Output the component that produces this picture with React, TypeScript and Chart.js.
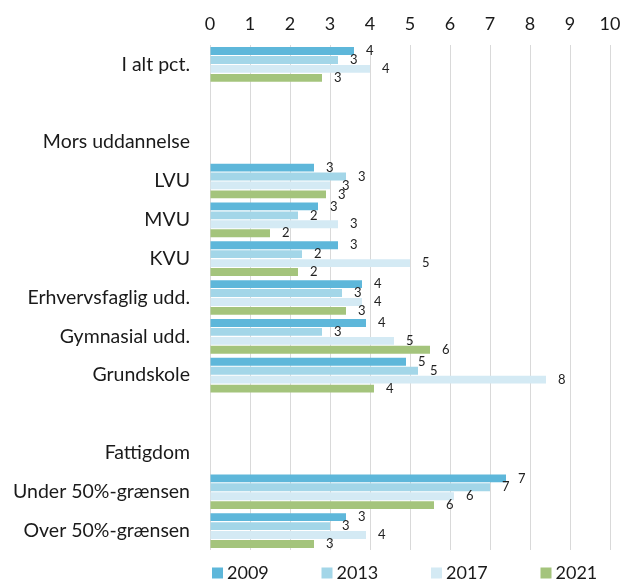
import React, { useEffect, useRef } from "react";
import { Chart, registerables } from "chart.js";

Chart.register(...registerables);

const categories = [
  "I alt pct.",
  "",
  "Mors uddannelse",
  "LVU",
  "MVU",
  "KVU",
  "Erhvervsfaglig udd.",
  "Gymnasial udd.",
  "Grundskole",
  "",
  "Fattigdom",
  "Under 50%-grænsen",
  "Over 50%-grænsen",
];
const seriesNames = ["2009", "2013", "2017", "2021"];
const v2009 = [3.6, null, null, 2.6, 2.7, 3.2, 3.8, 3.9, 4.9, null, null, 7.4, 3.4];
const v2013 = [3.2, null, null, 3.4, 2.2, 2.3, 3.3, 2.8, 5.2, null, null, 7.0, 3.0];
const v2017 = [4.0, null, null, 3.0, 3.2, 5.0, 3.8, 4.6, 8.4, null, null, 6.1, 3.9];
const v2021 = [2.8, null, null, 2.9, 1.5, 2.2, 3.4, 5.5, 4.1, null, null, 5.6, 2.6];
const xTicks = [0, 1, 2, 3, 4, 5, 6, 7, 8, 9, 10];

const colors = ["#5eb7da", "#a3d6e8", "#d4eaf4", "#a4c47c"];
const FONT = "Lato, 'Open Sans', sans-serif";

const valueLabels = {
  id: "valueLabels",
  afterDatasetsDraw(chart: any) {
    const ctx = chart.ctx;
    ctx.save();
    ctx.font = `13px ${FONT}`;
    ctx.fillStyle = "#222";
    ctx.textAlign = "left";
    ctx.textBaseline = "middle";
    chart.data.datasets.forEach((ds: any, di: number) => {
      const meta = chart.getDatasetMeta(di);
      meta.data.forEach((el: any, i: number) => {
        const v = ds.data[i];
        if (v === null || v === undefined) return;
        ctx.fillText(String(Math.round(v)), el.x + 12, el.y);
      });
    });
    ctx.restore();
  },
};

const bottomLegend = {
  id: "bottomLegend",
  afterDraw(chart: any) {
    const ctx = chart.ctx;
    const area = chart.chartArea;
    ctx.save();
    ctx.font = `18px ${FONT}`;
    ctx.textBaseline = "middle";
    ctx.textAlign = "left";
    chart.data.datasets.forEach((ds: any, i: number) => {
      const x = area.left + 2 + i * 109.5;
      const y = 573;
      ctx.fillStyle = ds.backgroundColor;
      ctx.fillRect(x, y - 5.5, 11, 11);
      ctx.fillStyle = "#1a1a1a";
      ctx.fillText(ds.label, x + 15, y);
    });
    ctx.restore();
  },
};

export default function App() {
  const ref = useRef<HTMLCanvasElement | null>(null);
  useEffect(() => {
    if (!ref.current) return;
    const series = [v2009, v2013, v2017, v2021];
    const chart = new Chart(ref.current, {
      type: "bar",
      data: {
        labels: categories,
        datasets: series.map((d, i) => ({
          label: seriesNames[i],
          data: d,
          backgroundColor: colors[i],
          borderWidth: 0,
          categoryPercentage: 0.92,
          barPercentage: 0.88,
        })),
      },
      options: {
        indexAxis: "y",
        animation: false,
        responsive: true,
        maintainAspectRatio: false,
        layout: { padding: { left: 0, right: 22, top: 0, bottom: 32 } },
        plugins: {
          legend: { display: false },
          tooltip: { enabled: false },
        },
        scales: {
          x: {
            position: "top",
            min: 0,
            max: 10,
            afterBuildTicks(scale: any) {
              scale.ticks = xTicks.map((v) => ({ value: v }));
            },
            afterFit(scale: any) {
              scale.height = 45;
            },
            grid: { color: "#d9d9d9", drawTicks: false, lineWidth: 1 },
            border: { display: false },
            ticks: {
              color: "#1a1a1a",
              font: { family: FONT, size: 18 },
              padding: 10,
            },
          },
          y: {
            afterFit(scale: any) {
              scale.width = 210;
            },
            grid: { display: false, drawTicks: false },
            border: { display: false },
            ticks: {
              color: "#1a1a1a",
              font: { family: FONT, size: 19.5 },
              padding: 20,
              autoSkip: false,
            },
          },
        },
      },
      plugins: [valueLabels, bottomLegend],
    });
    return () => chart.destroy();
  }, []);
  return (
    <div style={{ position: "fixed", left: 0, top: 0, width: 632, height: 582, background: "#fff" }}>
      <canvas ref={ref} />
    </div>
  );
}
